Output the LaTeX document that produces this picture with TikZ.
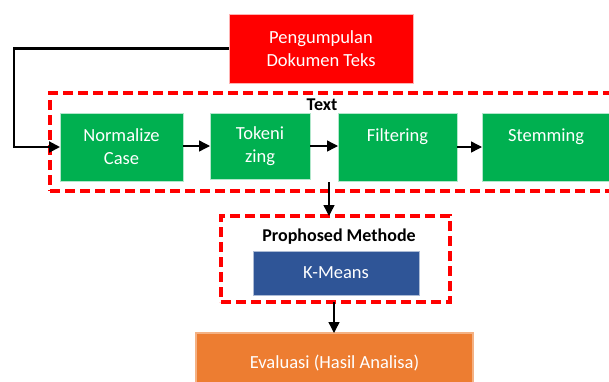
\documentclass[tikz,border=0pt]{standalone}
\usepackage{fontspec}
\setmainfont{Carlito}
\usetikzlibrary{arrows.meta}
\definecolor{pgreen}{HTML}{00B050}
\definecolor{pred}{HTML}{FF0000}
\definecolor{pblue}{HTML}{2F5597}
\definecolor{porange}{HTML}{ED7D31}
\definecolor{porangeb}{HTML}{F4B183}
\tikzset{
  every node/.style={inner sep=0pt, outer sep=0pt},
  fbox/.style={rectangle, draw=white!70!pgreen, line width=0.6pt, fill=pgreen, text=white, align=center, font=\fontsize{18.5}{23}\selectfont},
  grp/.style={rectangle, draw=pred, line width=3.4pt, dash pattern=on 10pt off 5pt},
  conn/.style={draw=black, line width=1.4pt, -{Triangle[length=11pt,width=11pt]}},
  lbl/.style={font=\bfseries\fontsize{18}{22}\selectfont, text=black}
}
\begin{document}
\begin{tikzpicture}[x=1pt,y=-1pt]
\useasboundingbox (0,0) rectangle (609,381);
\clip (0,0) rectangle (609,381);
% groups
\node[grp, minimum width=570, minimum height=98] (textgrp) at (335,142) {};
\node[lbl] (textlbl) at (322,105) {Text};
\node[grp, minimum width=229, minimum height=86] (propgrp) at (335.5,259) {};
\node[lbl] (proplbl) at (339,237) {Prophosed Methode};
% boxes
\node[fbox, fill=pred, draw=white!70!pred, minimum width=184, minimum height=69] (peng) at (321,48.5) {Pengumpulan\\Dokumen Teks};
\node[fbox, minimum width=123, minimum height=68] (norm) at (121.5,147) {Normalize\\Case};
\node[fbox, minimum width=100, minimum height=66] (tok) at (260,146) {Tokeni\\zing};
\node[fbox, minimum width=119, minimum height=68] (filt) at (397.5,147) {Filtering\\\mbox{}};
\node[fbox, minimum width=128, minimum height=68] (stem) at (546,147) {Stemming\\\mbox{}};
\node[fbox, fill=pblue, draw=white!60!pblue, minimum width=166, minimum height=44] (kmeans) at (336,273) {K-Means};
\node[fbox, fill=porange, draw=porangeb, line width=1.5pt, minimum width=277, minimum height=62] (eval) at (334.5,364) {\raisebox{4pt}{Evaluasi (Hasil Analisa)}};
% connectors
\draw[conn, line width=2.2pt] (peng.west) -- (14,48.5) |- (norm.west);
\draw[conn] (norm.east |- tok.west) -- (tok.west);
\draw[conn] (tok.east) -- (filt.west |- tok.east);
\draw[conn] (filt.east) -- (stem.west);
\coordinate (tstart) at (329,182);
\draw[conn] (tstart) -- (tstart |- propgrp.north);
\coordinate (pstart) at (334,302);
\draw[conn] (pstart) -- (pstart |- eval.north);
\end{tikzpicture}
\end{document}
